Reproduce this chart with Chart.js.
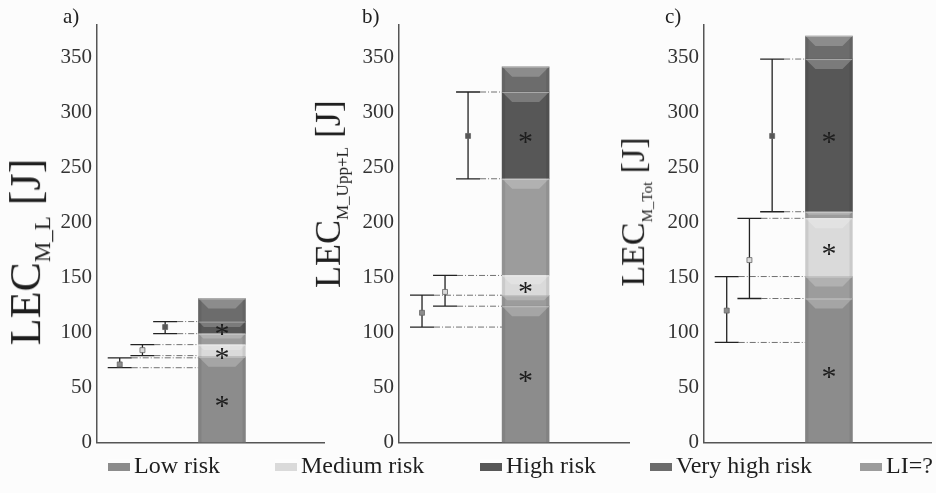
<!DOCTYPE html>
<html>
<head>
<meta charset="utf-8">
<script src="https://cdn.jsdelivr.net/npm/chart.js@4.4.1/dist/chart.umd.min.js"></script>
<style>
  body { margin: 0; width: 936px; height: 493px; overflow: hidden; position: relative;
         background: #fcfcfc; font-family: 'Liberation Serif', 'Times New Roman', Times, serif; color: #1e1e1e; }
  canvas { position: absolute; top: 0; }
  .tag { position: absolute; top: 4px; font-size: 21px; }
  .ytitle { position: absolute; white-space: nowrap;
            transform: translate(-50%, -50%) rotate(-90deg); }
  .item { position: absolute; top: 451px; font-size: 24px; line-height: 28px; white-space: nowrap; }
  .item i { display: inline-block; width: 22px; height: 12px; margin-right: 4px; vertical-align: 2px; }
</style>
</head>
<body>
<canvas id="pa" width="282" height="460" style="left:47px"></canvas>
<canvas id="pb" width="285" height="460" style="left:349px"></canvas>
<canvas id="pc" width="282" height="460" style="left:654px"></canvas>
<div id="labels"></div>
<script>
const serif = "'Liberation Serif', 'Times New Roman', Times, serif";
const panelTags = ['a)', 'b)', 'c)'];
const subscripts = ['M_L', 'M_Upp+L', 'M_Tot'];
const legendLabels = ['Low risk', 'Medium risk', 'High risk', 'Very high risk', 'LI=?'];
const legendColors = ['#8c8c8c', '#dadada', '#575757', '#6c6c6c', '#9c9c9c'];
const starKinds = [0, 1, 2];

// mean and interval of the low / medium / high risk groups
const groupX = [1, 2, 3];
const meanA = [71, 84, 105];
const lowerA = [68, 79, 99];
const upperA = [77, 89, 110];
const meanB = [118, 137, 279];
const lowerB = [105, 124, 240];
const upperB = [134, 152, 319];
const meanC = [120, 166, 279];
const lowerC = [91, 131, 210];
const upperC = [151, 204, 349];

// the column: segment bounds and legend entry of each segment
const barX = 5.5;
const segStartA = [0, 78, 89, 99, 110];
const segEndA = [78, 89, 99, 110, 131];
const segKindA = [0, 1, 4, 2, 3];
const segStartB = [0, 124, 134, 152, 240, 319];
const segEndB = [124, 134, 152, 240, 319, 342];
const segKindB = [0, 4, 1, 4, 2, 3];
const segStartC = [0, 131, 151, 204, 210, 349];
const segEndC = [131, 151, 204, 210, 349, 370];
const segKindC = [0, 4, 1, 4, 2, 3];

const errorBars = {
  id: 'errorBars',
  beforeDatasetsDraw(chart, args, opts) {
    const { ctx, scales: { x, y } } = chart;
    const bar = chart.getDatasetMeta(0).data[0].getProps(['x', 'width'], true);
    const barLeft = bar.x - bar.width / 2;
    const cap = 12;
    ctx.save();
    opts.lower.forEach((lo, i) => {
      const px = x.getPixelForValue(groupX[i]);
      const yLo = y.getPixelForValue(lo);
      const yHi = y.getPixelForValue(opts.upper[i]);
      ctx.strokeStyle = '#707070';
      ctx.lineWidth = 1;
      ctx.setLineDash([6, 2, 1, 2]);
      [yLo, yHi].forEach(py => {
        ctx.beginPath();
        ctx.moveTo(px + cap, py);
        ctx.lineTo(barLeft, py);
        ctx.stroke();
      });
      ctx.setLineDash([]);
      ctx.strokeStyle = '#222';
      ctx.lineWidth = 1.3;
      ctx.beginPath();
      ctx.moveTo(px, yLo); ctx.lineTo(px, yHi);
      ctx.moveTo(px - cap, yLo); ctx.lineTo(px + cap, yLo);
      ctx.moveTo(px - cap, yHi); ctx.lineTo(px + cap, yHi);
      ctx.stroke();
    });
    ctx.restore();
  }
};

const bevel = {
  id: 'bevel',
  afterDatasetsDraw(chart) {
    const ctx = chart.ctx;
    ctx.save();
    chart.data.datasets.forEach((ds, di) => {
      if (ds.type !== 'bar') return;
      chart.getDatasetMeta(di).data.forEach(el => {
        const p = el.getProps(['x', 'y', 'base', 'width'], true);
        const l = p.x - p.width / 2, r = p.x + p.width / 2;
        const top = Math.min(p.y, p.base), bot = Math.max(p.y, p.base);
        const d = Math.min(10, (bot - top) * 0.45);
        ctx.fillStyle = 'rgba(0,0,0,0.07)';
        ctx.fillRect(l, top, 3, bot - top);
        ctx.fillRect(r - 3, top, 3, bot - top);
        ctx.fillStyle = 'rgba(255,255,255,0.22)';
        ctx.beginPath();
        ctx.moveTo(l, top); ctx.lineTo(r, top);
        ctx.lineTo(r - d, top + d); ctx.lineTo(l + d, top + d);
        ctx.closePath();
        ctx.fill();
        ctx.fillStyle = 'rgba(255,255,255,0.35)';
        ctx.fillRect(l, top, r - l, 1);
        if (ds.starred) {
          ctx.fillStyle = '#1e1e1e';
          ctx.font = '30px ' + serif;
          ctx.textAlign = 'center';
          ctx.textBaseline = 'middle';
          ctx.fillText('*', p.x, (top + bot) / 2 + 8);
        }
      });
    });
    ctx.restore();
  }
};

function buildPanel(id, mean, lower, upper, segStart, segEnd, segKind) {
  const datasets = segStart.map((s, i) => ({
    type: 'bar',
    label: legendLabels[segKind[i]],
    data: [{ x: barX, y: [s, segEnd[i]] }],
    backgroundColor: legendColors[segKind[i]],
    barThickness: 47,
    grouped: false,
    starred: starKinds.includes(segKind[i])
  }));
  datasets.push({
    type: 'scatter',
    data: groupX.map((x, i) => ({ x, y: mean[i] })),
    pointStyle: 'rect',
    pointRadius: 3.5,
    backgroundColor: legendColors.slice(0, 3),
    borderColor: '#666',
    borderWidth: 0.8
  });
  return new Chart(document.getElementById(id), {
    type: 'bar',
    data: { datasets },
    options: {
      responsive: false,
      animation: false,
      events: [],
      layout: { padding: { top: 25, bottom: 15, left: 0, right: 0 } },
      plugins: { legend: { display: false }, tooltip: { enabled: false },
                 errorBars: { lower, upper } },
      scales: {
        x: { type: 'linear', min: 0, max: 10, offset: false,
             ticks: { display: false }, grid: { display: false },
             border: { color: '#555', width: 1.5 },
             afterFit(s) { s.height = 0; } },
        y: { min: 0, max: 380,
             ticks: { stepSize: 50, includeBounds: false, padding: 5, color: '#333',
                      font: { family: serif, size: 21 } },
             grid: { display: false, drawTicks: false },
             border: { color: '#555', width: 1.5 },
             afterFit(s) { s.width = 50; } }
      }
    },
    plugins: [errorBars, bevel]
  });
}

buildPanel('pa', meanA, lowerA, upperA, segStartA, segEndA, segKindA);
buildPanel('pb', meanB, lowerB, upperB, segStartB, segEndB, segKindB);
buildPanel('pc', meanC, lowerC, upperC, segStartC, segEndC, segKindC);

// panel tags, axis titles and the shared legend
const tagX = [63, 362, 665];
const titlePos = [[28, 252], [330, 194], [635, 212]];
const titleSize = [44, 36, 34];
const subSize = [23, 17, 15];
const legendX = [108, 275, 480, 650, 860];
const labels = document.getElementById('labels');
let html = '';
panelTags.forEach((t, i) => {
  html += `<div class="tag" style="left:${tagX[i]}px">${t}</div>`;
  html += `<div class="ytitle" style="left:${titlePos[i][0]}px;top:${titlePos[i][1]}px;font-size:${titleSize[i]}px">` +
          `LEC<sub style="font-size:${subSize[i]}px">${subscripts[i]}</sub> [J]</div>`;
});
legendLabels.forEach((t, i) => {
  const c = legendColors[i];
  html += `<div class="item" style="left:${legendX[i]}px"><i style="background:linear-gradient(rgba(255,255,255,0.35) 0 4px, ${c} 4px)"></i>${t}</div>`;
});
labels.innerHTML = html;
</script>
</body>
</html>
